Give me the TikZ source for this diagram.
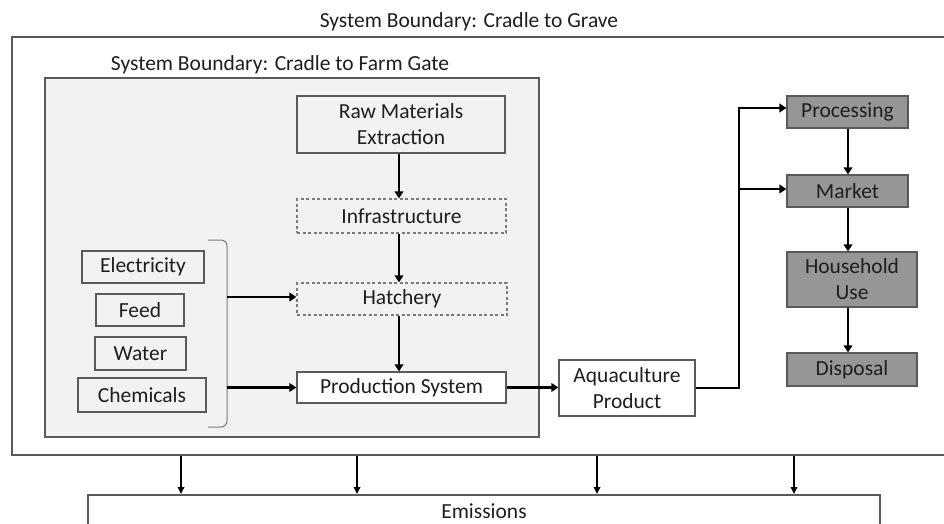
\documentclass[tikz,border=0pt]{standalone}
\usepackage{fontspec}
\setmainfont{Carlito}
\usetikzlibrary{arrows.meta}
\definecolor{edge}{RGB}{90,90,90}
\definecolor{panel}{RGB}{242,242,242}
\definecolor{darkbox}{RGB}{150,150,150}
\definecolor{ink}{RGB}{30,30,30}
\tikzset{
  box/.style={draw=edge, line width=1.1pt, text=ink, align=center, inner sep=0pt,
    font=\fontsize{21.5}{26}\selectfont},
  plainbox/.style={box, fill=white},
  dashbox/.style={box, dashed, dash pattern=on 3pt off 2.5pt, draw=edge!80},
  greybox/.style={box, fill=darkbox},
  arr/.style={-{Triangle[length=7pt,width=8.5pt]}, line width=2.9pt, black},
  thinarr/.style={-{Triangle[length=7pt,width=6.5pt]}, line width=1.7pt, black},
  flow/.style={line width=2.9pt, black},
  caption/.style={text=ink, font=\fontsize{21.5}{24}\selectfont, inner sep=0pt}
}
\begin{document}
\begin{tikzpicture}[x=1pt, y=-1pt]
\useasboundingbox (0,0) rectangle (944,524);

% outer boundary: cradle to grave
\draw[edge, line width=1.4pt] (12,37) rectangle (960,455);
\node[caption] (tgrave) at (469,22) {System Boundary: Cradle to Grave};

% inner boundary: cradle to farm gate
\draw[edge, line width=1.1pt, fill=panel] (45,78) rectangle (539,437);
\node[caption] (tfarm) at (280,65) {System Boundary: Cradle to Farm Gate};

% main production chain
\node[box, minimum width=208pt, minimum height=57pt] (raw) at (401,124.5) {Raw Materials\\Extraction};
\node[dashbox, minimum width=209pt, minimum height=34pt] (infra) at (401.5,216) {Infrastructure};
\node[dashbox, minimum width=210pt, minimum height=32pt] (hatch) at (402,299) {Hatchery};
\node[plainbox, minimum width=209pt, minimum height=31pt] (prod) at (401.5,387.5) {Production System};

\coordinate (ax) at (399,0);
\draw[arr] (raw.south -| ax) -- (infra.north -| ax);
\draw[arr] (infra.south -| ax) -- (hatch.north -| ax);
\draw[arr] (hatch.south -| ax) -- (prod.north -| ax);

% inputs
\node[box, minimum width=122pt, minimum height=32pt] (elec) at (143,267) {Electricity};
\node[box, minimum width=88pt, minimum height=32pt] (feed) at (140,310) {Feed};
\node[box, minimum width=91pt, minimum height=33pt] (water) at (140.5,353.5) {Water};
\node[box, minimum width=128pt, minimum height=34pt] (chem) at (142,395) {Chemicals};

% bracket grouping the inputs
\coordinate (btop) at (208,240);
\coordinate (bbot) at (208,427);
\draw[edge!80, line width=1pt, rounded corners=6pt]
  (btop) -- (227,240) -- (227,427) -- (bbot);
\coordinate (b1) at (227,297);
\coordinate (b2) at (227,387.5);
\draw[arr] (b1) -- (b1 -| hatch.west);
\draw[arr] (b2) -- (prod.west);

% product
\node[plainbox, minimum width=136pt, minimum height=56pt] (aqua) at (627,388) {Aquaculture\\Product};
\draw[arr] (prod.east) -- (prod.east -| aqua.west);

% downstream stages
\node[greybox, minimum width=121pt, minimum height=32pt] (proc) at (847.5,112) {Processing};
\node[greybox, minimum width=121pt, minimum height=32pt] (market) at (847.5,191) {Market};
\node[greybox, minimum width=130pt, minimum height=55pt] (house) at (852,279.5) {Household\\Use};
\node[greybox, minimum width=130pt, minimum height=33pt] (disp) at (852,369.5) {Disposal};

\coordinate (jx) at (739,0);
\coordinate (jtop) at (739,108);
\coordinate (jmid) at (739,189);
\draw[flow] (aqua.east) -- (aqua.east -| jx) -- (jtop);
\draw[arr] ([xshift=-1.45pt]jtop) -- (jtop -| proc.west);
\draw[arr] (jmid) -- (jmid -| proc.west);

\coordinate (dx) at (848,0);
\draw[arr] (proc.south -| dx) -- (market.north -| dx);
\draw[arr] (market.south -| dx) -- (house.north -| dx);
\draw[arr] (house.south -| dx) -- (disp.north -| dx);

% emissions
\draw[edge, line width=1.1pt] (88,540) -- (88,495) -- (880,495) -- (880,540);
\node[caption] (emis) at (484,511) {Emissions};
\foreach \ex [count=\i] in {181,357,597,794} {
  \coordinate (e\i) at (\ex,456);
  \draw[thinarr] (e\i) -- (\ex,494);
}
\end{tikzpicture}
\end{document}
